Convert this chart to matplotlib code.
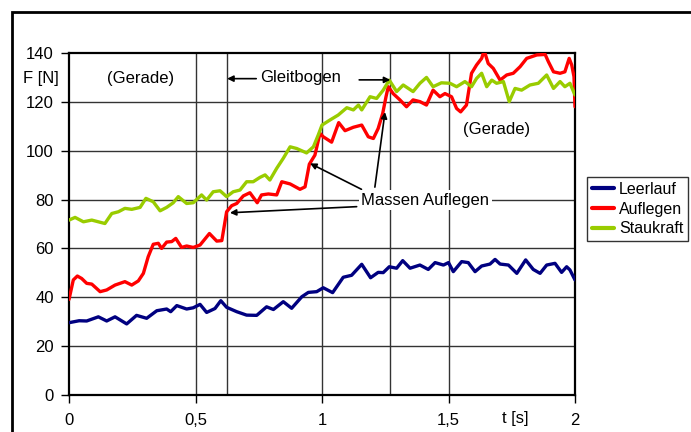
import matplotlib
matplotlib.use("Agg")
import matplotlib.pyplot as plt
from matplotlib.patches import Rectangle

plt.rcParams['font.family'] = ['Liberation Sans', 'DejaVu Sans']

# Leerlauf
t_leer = [0.0, 0.04, 0.07, 0.116, 0.149, 0.182, 0.228, 0.267, 0.307, 0.347, 0.386, 0.402,
          0.426, 0.465, 0.491, 0.518, 0.544, 0.577, 0.60, 0.623, 0.663, 0.702, 0.742, 0.781,
          0.808, 0.847, 0.88, 0.92, 0.946, 0.979, 1.005, 1.042, 1.084, 1.117, 1.157, 1.192,
          1.222, 1.242, 1.266, 1.295, 1.319, 1.348, 1.387, 1.42, 1.447, 1.48, 1.50, 1.519,
          1.552, 1.578, 1.605, 1.631, 1.664, 1.684, 1.704, 1.737, 1.77, 1.805, 1.835, 1.862,
          1.888, 1.921, 1.947, 1.967, 1.98, 2.0]
f_leer = [29.6, 30.4, 30.3, 32.0, 30.3, 32.0, 29.1, 32.6, 31.4, 34.5, 35.2, 34.1,
          36.6, 35.2, 35.7, 37.1, 33.8, 35.4, 38.6, 35.9, 34.1, 32.7, 32.6, 36.1,
          35.0, 38.2, 35.5, 40.2, 42.0, 42.3, 43.9, 41.9, 48.2, 49.0, 53.5, 48.0,
          50.2, 50.1, 52.5, 51.9, 55.0, 51.9, 53.2, 51.4, 54.2, 53.2, 54.2, 50.5,
          54.6, 54.2, 50.5, 52.8, 53.6, 55.5, 53.6, 53.2, 49.8, 55.3, 51.4, 49.8,
          53.2, 53.9, 50.2, 52.5, 51.2, 47.1]

# Auflegen
t_auf = [0.0, 0.017, 0.033, 0.05, 0.07, 0.09, 0.123, 0.149, 0.182, 0.221, 0.248, 0.274,
         0.294, 0.313, 0.333, 0.353, 0.366, 0.386, 0.406, 0.422, 0.445, 0.465, 0.491, 0.518,
         0.555, 0.584, 0.604, 0.615, 0.623, 0.643, 0.663, 0.689, 0.715, 0.744, 0.761, 0.788,
         0.821, 0.841, 0.874, 0.913, 0.933, 0.95, 0.972, 0.992, 1.005, 1.038, 1.066, 1.091,
         1.124, 1.157, 1.183, 1.203, 1.222, 1.24, 1.253, 1.262, 1.281, 1.308, 1.334, 1.36,
         1.387, 1.413, 1.439, 1.466, 1.486, 1.512, 1.532, 1.548, 1.571, 1.591, 1.611, 1.631,
         1.641, 1.657, 1.677, 1.704, 1.73, 1.756, 1.783, 1.809, 1.849, 1.882, 1.895, 1.915,
         1.941, 1.96, 1.977, 1.987, 1.996, 2.0]
f_auf = [39.1, 47.1, 48.7, 47.7, 45.7, 45.4, 42.3, 43.0, 45.0, 46.4, 45.0, 46.7,
         49.8, 56.6, 61.7, 62.1, 60.0, 62.6, 62.8, 64.1, 60.4, 61.0, 60.4, 61.4,
         66.1, 63.0, 63.2, 70.0, 75.0, 77.5, 78.4, 81.5, 82.8, 78.7, 81.9, 82.3,
         81.9, 87.3, 86.4, 84.2, 85.2, 94.5, 98.2, 107.1, 105.7, 103.5, 111.5, 108.2,
         109.6, 110.5, 105.7, 105.0, 109.1, 115.3, 122.1, 126.2, 123.4, 120.8, 118.0, 120.8,
         120.1, 118.7, 124.8, 122.1, 123.4, 122.1, 117.3, 115.9, 118.7, 131.7, 135.1, 137.8,
         141.0, 135.7, 133.7, 128.9, 131.0, 131.7, 134.4, 137.8, 139.2, 139.4, 136.4, 132.3,
         131.7, 132.3, 137.8, 135.1, 130.3, 118.0]

# Staukraft
t_stau = [0.0, 0.024, 0.057, 0.09, 0.116, 0.142, 0.169, 0.195, 0.221, 0.248, 0.281, 0.304,
          0.333, 0.36, 0.386, 0.412, 0.432, 0.465, 0.491, 0.524, 0.544, 0.57, 0.597, 0.623,
          0.649, 0.676, 0.702, 0.728, 0.755, 0.775, 0.794, 0.821, 0.847, 0.874, 0.9, 0.939,
          0.966, 0.985, 1.0, 1.032, 1.064, 1.098, 1.124, 1.144, 1.157, 1.19, 1.216, 1.242,
          1.266, 1.295, 1.321, 1.36, 1.387, 1.413, 1.439, 1.472, 1.506, 1.532, 1.565, 1.591,
          1.611, 1.631, 1.651, 1.671, 1.69, 1.717, 1.74, 1.763, 1.789, 1.822, 1.855, 1.888,
          1.915, 1.941, 1.96, 1.98, 2.0]
f_stau = [71.6, 72.7, 70.9, 71.6, 70.9, 70.2, 74.3, 75.0, 76.4, 76.0, 76.8, 80.5,
          79.1, 75.4, 76.8, 78.7, 81.2, 78.4, 78.7, 81.9, 79.8, 83.2, 83.6, 81.2,
          83.2, 83.9, 87.3, 87.3, 89.1, 90.1, 88.0, 92.8, 96.9, 101.6, 100.9, 99.1,
          101.6, 106.4, 110.5, 112.6, 114.6, 117.6, 116.7, 118.7, 116.7, 122.1, 121.4, 124.8,
          128.9, 124.2, 126.9, 124.2, 127.6, 130.0, 126.2, 127.8, 127.6, 126.2, 128.3, 126.2,
          129.6, 131.7, 126.2, 128.9, 127.6, 128.3, 120.1, 125.5, 124.8, 126.9, 127.6, 131.0,
          125.5, 128.3, 126.2, 127.6, 122.8]

x_ticks = [0, 0.5, 1, 1.5, 2]
x_labels = ['0', '0,5', '1', '1,5', '2']
y_ticks = [0, 20, 40, 60, 80, 100, 120, 140]
t_bogen = [0.625, 1.27]   # Beginn / Ende Gleitbogen

fig = plt.figure(figsize=(6.91, 4.32), dpi=100)
ax = fig.add_axes([69/691, 1-395/432, (575-69)/691, (395-53)/432])

ax.set_xlim(0, 2)
ax.set_ylim(0, 140)
ax.set_xticks(x_ticks)
ax.set_xticklabels(x_labels)
ax.set_yticks(y_ticks)

for y in y_ticks[1:-1]:
    ax.axhline(y, color='#333333', lw=1.0, zorder=1)
for x in x_ticks[1:-1] + t_bogen:
    ax.axvline(x, color='#333333', lw=1.0, zorder=1)

lw = 2.4
style = dict(lw=lw, zorder=3, solid_joinstyle='round', solid_capstyle='round')
ax.plot(t_leer, f_leer, color='#000080', label='Leerlauf', **style)
ax.plot(t_auf, f_auf, color='#ff0000', label='Auflegen', **style)
ax.plot(t_stau, f_stau, color='#99cc00', label='Staukraft', **style)

for s in ax.spines.values():
    s.set_linewidth(1.6)
    s.set_color('black')
ax.tick_params(direction='out', length=6, width=1.0, labelsize=12, color='black')
ax.tick_params(axis='x', pad=7)
ax.tick_params(axis='y', pad=5)

fs = 12
ax.text(0.281, 129.5, '(Gerade)', ha='center', va='center', fontsize=fs)
ax.text(1.689, 108.5, '(Gerade)', ha='center', va='center', fontsize=fs)
ax.text(0.915, 129.9, 'Gleitbogen', ha='center', va='center', fontsize=fs)

arrow = dict(arrowstyle='-|>', color='black', lw=1.2, mutation_scale=9, shrinkA=0, shrinkB=0)
ax.annotate('', xy=(t_bogen[0], 129.5), xytext=(0.74, 129.5), arrowprops=arrow, zorder=4)
ax.annotate('', xy=(t_bogen[1], 129.0), xytext=(1.147, 129.0), arrowprops=arrow, zorder=4)

ax.text(1.409, 79.8, 'Massen Auflegen', ha='center', va='center', fontsize=fs, zorder=5,
        bbox=dict(facecolor='white', edgecolor='none', pad=2))
ax.annotate('', xy=(0.953, 94.8), xytext=(1.156, 84.2), arrowprops=arrow, zorder=4)
ax.annotate('', xy=(0.636, 74.6), xytext=(1.137, 77.1), arrowprops=arrow, zorder=4)
ax.annotate('', xy=(1.249, 115.8), xytext=(1.209, 85.1), arrowprops=arrow, zorder=4)

fig.text(59/691, 1-78/432, 'F [N]', ha='right', va='center', fontsize=fs)
fig.text(515/691, 1-419/432, 't [s]', ha='center', va='center', fontsize=fs)

leg = ax.legend(loc='upper left', bbox_to_anchor=(587/691, 1-177/432),
                bbox_transform=fig.transFigure, fontsize=11.5, frameon=True, fancybox=False,
                edgecolor='black', handlelength=1.4, handletextpad=0.3, labelspacing=0.3,
                borderpad=0.3, borderaxespad=0)
leg.get_frame().set_linewidth(1.0)
for line in leg.get_lines():
    line.set_linewidth(3)

# Rahmen um das Diagramm
fig.patches.append(Rectangle((12/691, -0.1), 1.2, 1-12/432+0.1, transform=fig.transFigure,
                             fill=False, edgecolor='black', lw=2.0, clip_on=False))

fig.savefig('out.png', dpi=100)
